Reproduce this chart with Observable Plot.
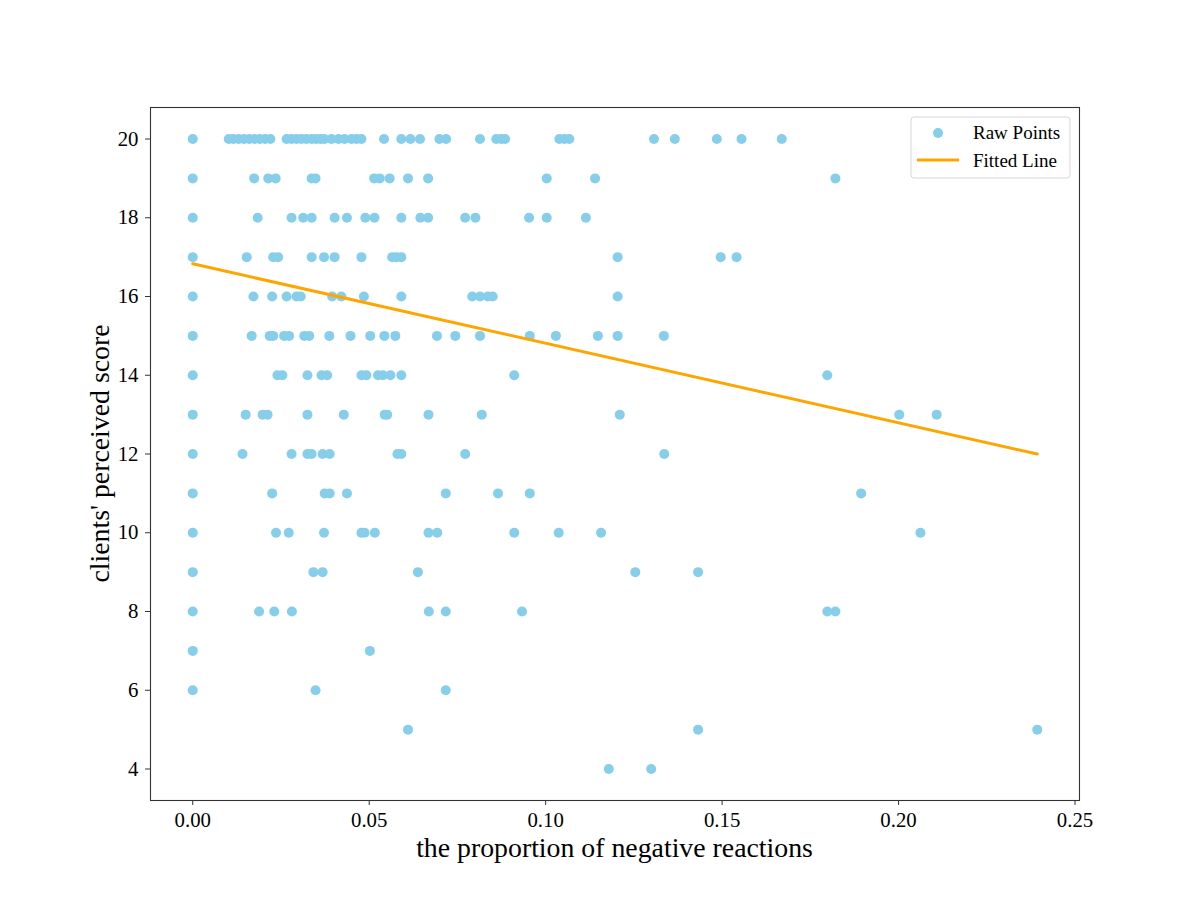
<!DOCTYPE html>
<html><head><meta charset="utf-8">
<script src="https://cdn.jsdelivr.net/npm/d3@7"></script>
<script src="https://cdn.jsdelivr.net/npm/@observablehq/plot@0.6"></script>
<style>body{margin:0;background:#fff;} #chart{width:1200px;height:900px;}</style>
</head><body><div id="chart"></div>
<script>
// x values (proportion of negative reactions) for each perceived-score row
const score20 = [0, 0.0102, 0.0115, 0.013, 0.0145, 0.016, 0.0175, 0.019, 0.0205, 0.022, 0.0266, 0.028, 0.0294, 0.0308, 0.0322, 0.0337, 0.035, 0.0362, 0.0373, 0.0393, 0.0413, 0.043, 0.045, 0.0464, 0.0478, 0.0542, 0.0591, 0.0617, 0.0644, 0.0699, 0.0718, 0.0814, 0.086, 0.0874, 0.0885, 0.1039, 0.1053, 0.1067, 0.1307, 0.1366, 0.1485, 0.1555, 0.1669];
const score19 = [0, 0.0174, 0.0214, 0.0235, 0.0337, 0.0348, 0.0514, 0.0530, 0.0558, 0.061, 0.0667, 0.1003, 0.114, 0.1821];
const score18 = [0, 0.0184, 0.028, 0.0313, 0.0337, 0.0402, 0.0437, 0.0489, 0.0515, 0.0591, 0.0645, 0.0667, 0.0772, 0.0801, 0.0953, 0.1003, 0.1114];
const score17 = [0, 0.0153, 0.0228, 0.0242, 0.0337, 0.0372, 0.0402, 0.0478, 0.0565, 0.0577, 0.0591, 0.1204, 0.1496, 0.1541];
const score16 = [0, 0.0172, 0.0225, 0.0266, 0.0294, 0.0306, 0.0395, 0.0421, 0.0485, 0.0591, 0.0792, 0.0814, 0.0836, 0.085, 0.1204];
const score15 = [0, 0.0167, 0.0218, 0.0228, 0.0259, 0.0273, 0.0316, 0.033, 0.0387, 0.0447, 0.0503, 0.0543, 0.0574, 0.0692, 0.0744, 0.0814, 0.0955, 0.1029, 0.1148, 0.1204, 0.1335];
const score14 = [0, 0.024, 0.0254, 0.0325, 0.0365, 0.0381, 0.0478, 0.0492, 0.0525, 0.0539, 0.056, 0.0591, 0.0911, 0.1798];
const score13 = [0, 0.015, 0.0198, 0.0212, 0.0325, 0.0428, 0.0544, 0.0551, 0.0668, 0.0819, 0.121, 0.2002, 0.2108];
const score12 = [0, 0.0141, 0.028, 0.0325, 0.0337, 0.0368, 0.0388, 0.058, 0.0591, 0.0772, 0.1336];
const score11 = [0, 0.0225, 0.0374, 0.0388, 0.0437, 0.0717, 0.0865, 0.0955, 0.1894];
const score10 = [0, 0.0236, 0.0272, 0.0372, 0.0478, 0.0487, 0.0516, 0.0668, 0.0693, 0.0911, 0.1037, 0.1157, 0.2062];
const score9 = [0, 0.0342, 0.0368, 0.0638, 0.1254, 0.1432];
const score8 = [0, 0.0188, 0.0231, 0.0281, 0.0669, 0.0717, 0.0933, 0.1798, 0.1821];
const score7 = [0, 0.0502];
const score6 = [0, 0.0348, 0.0717];
const score5 = [0.061, 0.1432, 0.2393];
const score4 = [0.1179, 0.1299];

const scoreRows = [[20, score20], [19, score19], [18, score18], [17, score17], [16, score16], [15, score15], [14, score14], [13, score13], [12, score12], [11, score11], [10, score10], [9, score9], [8, score8], [7, score7], [6, score6], [5, score5], [4, score4]];

const fitX = [0, 0.2393];
const fitY = [16.83, 12.0];

const xTicks = [0, 0.05, 0.10, 0.15, 0.20, 0.25];
const yTicks = [4, 6, 8, 10, 12, 14, 16, 18, 20];

const xLabel = "the proportion of negative reactions";
const yLabel = "clients' perceived score";
const legendLabels = ["Raw Points", "Fitted Line"];

const pointColor = "#87CEEB";
const lineColor = "#FFA500";
const serif = "'Liberation Serif', 'Times New Roman', serif";

const points = scoreRows.flatMap(([s, xs]) => xs.map(x => ({x, y: s})));
const fit = fitX.map((x, i) => ({x, y: fitY[i]}));

const W = 1200, H = 900, mL = 150, mR = 121, mT = 107, mB = 100;

const chart = Plot.plot({
  width: W, height: H,
  marginLeft: mL, marginRight: mR, marginTop: mT, marginBottom: mB,
  style: {fontFamily: serif, color: "#000", background: "#fff", overflow: "visible"},
  x: {domain: [-0.01197, 0.25127]},
  y: {domain: [3.2, 20.8]},
  marks: [
    Plot.dot(points, {x: "x", y: "y", r: 5, fill: pointColor}),
    Plot.line(fit, {x: "x", y: "y", stroke: lineColor, strokeWidth: 3}),
    Plot.frame({stroke: "#333", strokeWidth: 1.1}),
    Plot.axisX({ticks: xTicks, tickFormat: d3.format(".2f"), tickSize: 5, tickPadding: 7, fontSize: 20.8, label: null, stroke: "#333", fill: "#000"}),
    Plot.axisY({ticks: yTicks, tickSize: 5, tickPadding: 7, fontSize: 20.8, label: null, stroke: "#333", fill: "#000"})
  ]
});

const svg = d3.select(chart);
const plotRight = W - mR, plotBottom = H - mB;
// axis labels
svg.append("text")
  .attr("x", mL + (W - mL - mR) / 2).attr("y", plotBottom + 57)
  .attr("text-anchor", "middle").attr("font-family", serif).attr("font-size", 27.8).attr("fill", "#000")
  .text(xLabel);
svg.append("text")
  .attr("transform", `translate(${mL - 41},${mT + (H - mT - mB) / 2}) rotate(-90)`)
  .attr("text-anchor", "middle").attr("font-family", serif).attr("font-size", 27.8).attr("fill", "#000")
  .text(yLabel);

// legend
const lg = svg.append("g").attr("transform", `translate(${plotRight - 168},${mT + 10})`);
lg.append("rect").attr("x", 0).attr("y", 0).attr("width", 159).attr("height", 61).attr("rx", 3)
  .attr("fill", "#fff").attr("fill-opacity", 0.8).attr("stroke", "#d6d6d6").attr("stroke-width", 1);
lg.append("circle").attr("cx", 27).attr("cy", 16).attr("r", 5).attr("fill", pointColor);
lg.append("line").attr("x1", 6).attr("x2", 48).attr("y1", 43).attr("y2", 43).attr("stroke", lineColor).attr("stroke-width", 3);
lg.selectAll("text.lab").data(legendLabels).join("text")
  .attr("class", "lab")
  .attr("x", 62).attr("y", (d, i) => 22 + i * 27.5)
  .attr("text-anchor", "start")
  .attr("font-family", serif).attr("font-size", 19).attr("fill", "#000")
  .text(d => d);

document.getElementById("chart").appendChild(chart);
</script>
</body></html>
